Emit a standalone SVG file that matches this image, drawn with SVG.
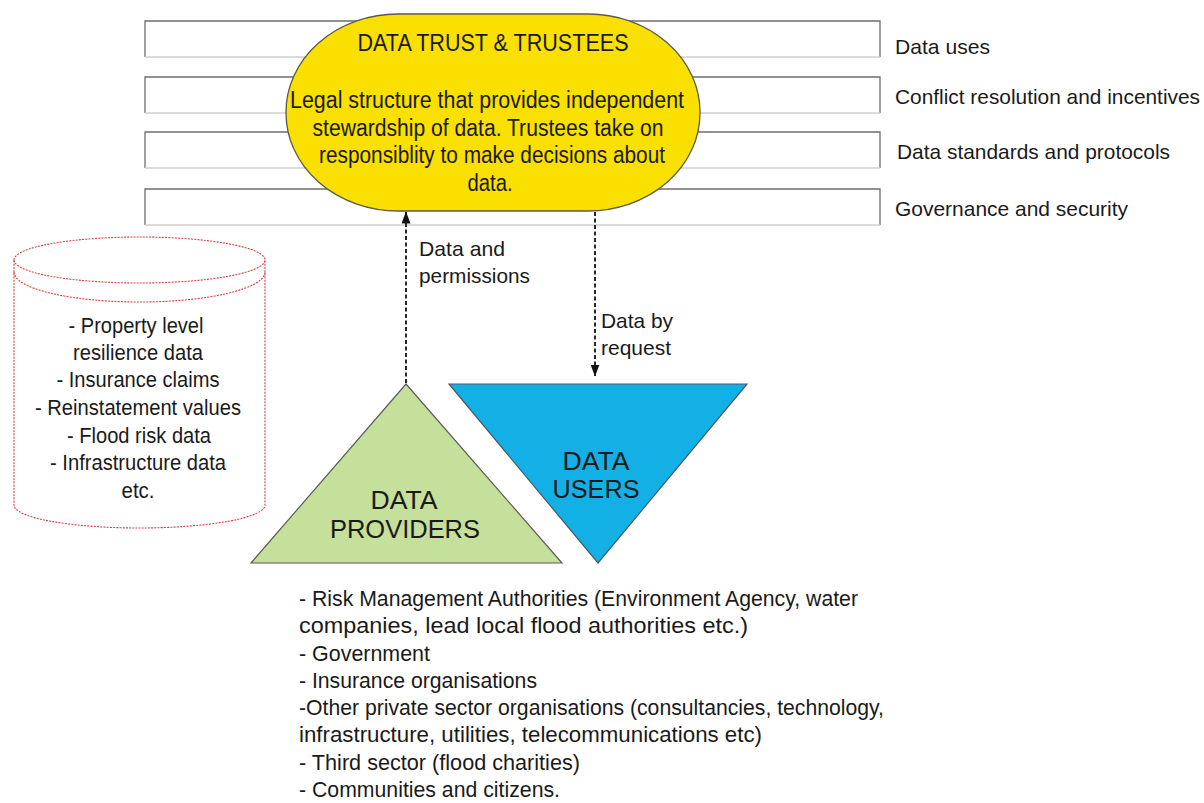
<svg xmlns="http://www.w3.org/2000/svg" width="1204" height="803" viewBox="0 0 1204 803">
<style>
text{font-family:"Liberation Sans",Arial,sans-serif;fill:#1a1a1a;}
.t21{font-size:21px;}
.t22{font-size:22px;}
.t23{font-size:23px;}
.t25{font-size:25px;}
.mid{text-anchor:middle;}
.bar{fill:#ffffff;stroke:none;}
.barEdge{fill:none;stroke:#6e6e6e;stroke-width:1.3;}
.barBottom{stroke:#cfcfcf;stroke-width:1.3;}
.conn{fill:none;stroke:#111;stroke-width:1.8;stroke-dasharray:4 2.5;}
.cyl{fill:#fff;stroke:#d9403f;stroke-width:1.1;stroke-dasharray:2 1.2;}
</style>
<defs>
<marker id="arrow" viewBox="0 0 12 9" refX="11.5" refY="4.5" markerWidth="12" markerHeight="9" orient="auto" markerUnits="userSpaceOnUse">
<path d="M0,0 L12,4.5 L0,9 Z" fill="#111"/>
</marker>
</defs>
<rect width="1204" height="803" fill="#ffffff"/>

<g id="layers">
<g id="layer-data-uses">
<rect class="bar" x="145" y="21" width="735" height="36"/>
<path class="barEdge" d="M145,57 L145,21 L880,21 L880,57"/>
<line class="barBottom" x1="145" y1="57" x2="880" y2="57"/>
<text class="t21" x="895" y="54" textLength="95" lengthAdjust="spacingAndGlyphs">Data uses</text>
</g>
<g id="layer-conflict">
<rect class="bar" x="145" y="77" width="735" height="36"/>
<path class="barEdge" d="M145,113 L145,77 L880,77 L880,113"/>
<line class="barBottom" x1="145" y1="113" x2="880" y2="113"/>
<text class="t21" x="895" y="104" textLength="305" lengthAdjust="spacingAndGlyphs">Conflict resolution and incentives</text>
</g>
<g id="layer-standards">
<rect class="bar" x="145" y="132" width="735" height="36"/>
<path class="barEdge" d="M145,168 L145,132 L880,132 L880,168"/>
<line class="barBottom" x1="145" y1="168" x2="880" y2="168"/>
<text class="t21" x="897" y="159" textLength="273" lengthAdjust="spacingAndGlyphs">Data standards and protocols</text>
</g>
<g id="layer-governance">
<rect class="bar" x="145" y="189" width="735" height="36"/>
<path class="barEdge" d="M145,225 L145,189 L880,189 L880,225"/>
<line class="barBottom" x1="145" y1="225" x2="880" y2="225"/>
<text class="t21" x="895" y="216" textLength="233" lengthAdjust="spacingAndGlyphs">Governance and security</text>
</g>
</g>

<g id="data-trust">
<rect x="286" y="14" width="414" height="197" rx="112" ry="98" fill="#f9e000" stroke="#5a5a4a" stroke-width="1.3"/>
<text class="t23 mid" x="493" y="51" textLength="271" lengthAdjust="spacingAndGlyphs">DATA TRUST &amp; TRUSTEES</text>
<text class="t23 mid" x="487" y="108" textLength="394" lengthAdjust="spacingAndGlyphs">Legal structure that provides independent</text>
<text class="t23 mid" x="488" y="136" textLength="351" lengthAdjust="spacingAndGlyphs">stewardship of data. Trustees take on</text>
<text class="t23 mid" x="492" y="163" textLength="346" lengthAdjust="spacingAndGlyphs">responsiblity to make decisions about</text>
<text class="t23 mid" x="490" y="191" textLength="45" lengthAdjust="spacingAndGlyphs">data.</text>
</g>

<g id="data-store">
<path class="cyl" d="M14,260 A125.5,23 0 0 1 265,260 L265,505 A125.5,23 0 0 1 14,505 Z"/>
<path class="cyl" style="fill:none" d="M14,260 A125.5,23 0 0 0 265,260"/>
<path class="cyl" style="fill:none" d="M14,272 A125.5,30 0 0 0 265,272"/>
<text class="t22 mid" x="136" y="333" textLength="135" lengthAdjust="spacingAndGlyphs">- Property level</text>
<text class="t22 mid" x="138" y="360" textLength="130" lengthAdjust="spacingAndGlyphs">resilience data</text>
<text class="t22 mid" x="138" y="387" textLength="163" lengthAdjust="spacingAndGlyphs">- Insurance claims</text>
<text class="t22 mid" x="138" y="415" textLength="206" lengthAdjust="spacingAndGlyphs">- Reinstatement values</text>
<text class="t22 mid" x="139" y="443" textLength="144" lengthAdjust="spacingAndGlyphs">- Flood risk data</text>
<text class="t22 mid" x="138" y="470" textLength="176" lengthAdjust="spacingAndGlyphs">- Infrastructure data</text>
<text class="t22 mid" x="138" y="498" textLength="33" lengthAdjust="spacingAndGlyphs">etc.</text>
</g>

<g id="data-providers">
<path d="M406,384 L562,563 L251,563 Z" fill="#c5e09a" stroke="#5b5b5b" stroke-width="1.2"/>
<text class="t25 mid" x="404" y="509" textLength="67" lengthAdjust="spacingAndGlyphs">DATA</text>
<text class="t25 mid" x="405" y="538" textLength="150" lengthAdjust="spacingAndGlyphs">PROVIDERS</text>
</g>

<g id="data-users">
<path d="M449,384 L747,384 L598,563 Z" fill="#13b0e6" stroke="#4a5a62" stroke-width="1.2"/>
<text class="t25 mid" x="596" y="470" textLength="67" lengthAdjust="spacingAndGlyphs">DATA</text>
<text class="t25 mid" x="596" y="498" textLength="87" lengthAdjust="spacingAndGlyphs">USERS</text>
</g>

<g id="connectors">
<line class="conn" x1="406" y1="383" x2="406" y2="212" marker-end="url(#arrow)"/>
<line class="conn" x1="595" y1="212" x2="595" y2="376" marker-end="url(#arrow)"/>
<text class="t21" x="419" y="256" textLength="86" lengthAdjust="spacingAndGlyphs">Data and</text>
<text class="t21" x="419" y="283" textLength="111" lengthAdjust="spacingAndGlyphs">permissions</text>
<text class="t21" x="601" y="328" textLength="72" lengthAdjust="spacingAndGlyphs">Data by</text>
<text class="t21" x="601" y="355" textLength="70" lengthAdjust="spacingAndGlyphs">request</text>
</g>

<g id="provider-list">
<text class="t22" x="299" y="606" textLength="559" lengthAdjust="spacingAndGlyphs">- Risk Management Authorities (Environment Agency, water</text>
<text class="t22" x="299" y="633" textLength="449" lengthAdjust="spacingAndGlyphs">companies, lead local flood authorities etc.)</text>
<text class="t22" x="299" y="661" textLength="131" lengthAdjust="spacingAndGlyphs">- Government</text>
<text class="t22" x="299" y="688" textLength="238" lengthAdjust="spacingAndGlyphs">- Insurance organisations</text>
<text class="t22" x="299" y="715" textLength="585" lengthAdjust="spacingAndGlyphs">-Other private sector organisations (consultancies, technology,</text>
<text class="t22" x="299" y="742" textLength="463" lengthAdjust="spacingAndGlyphs">infrastructure, utilities, telecommunications etc)</text>
<text class="t22" x="299" y="770" textLength="281" lengthAdjust="spacingAndGlyphs">- Third sector (flood charities)</text>
<text class="t22" x="299" y="797" textLength="261" lengthAdjust="spacingAndGlyphs">- Communities and citizens.</text>
</g>
</svg>
